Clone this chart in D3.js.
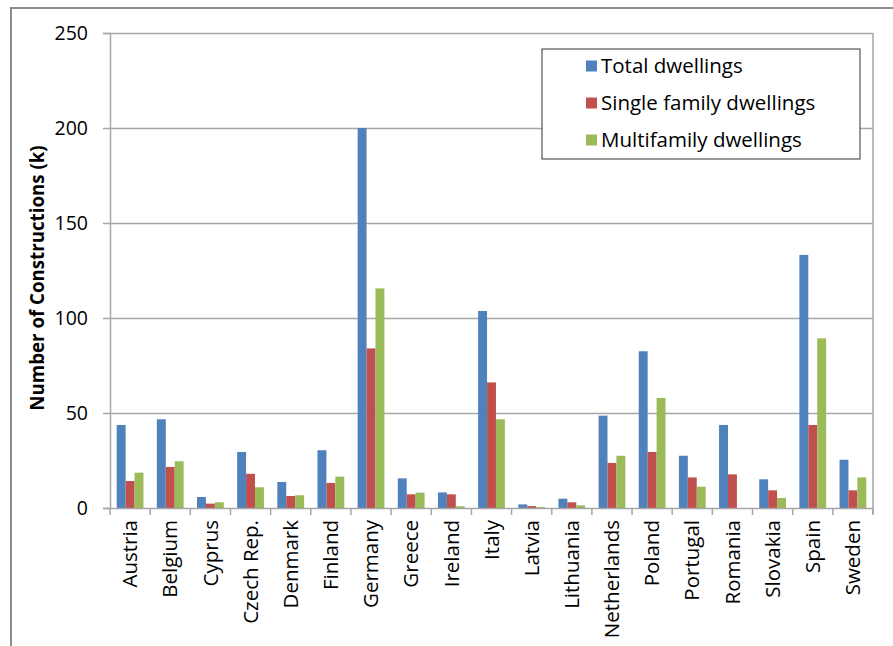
<!DOCTYPE html>
<html>
<head>
<meta charset="utf-8">
<script src="https://cdn.jsdelivr.net/npm/d3@7"></script>
<style>
    body { margin: 0; background: #fff; }
    svg text { font-family: "Open Sans", "Noto Sans", sans-serif; fill: #000; }
</style>
</head>
<body>
<svg id="chart"></svg>
<script>
const countries = ["Austria", "Belgium", "Cyprus", "Czech Rep.", "Denmark", "Finland", "Germany",
    "Greece", "Ireland", "Italy", "Latvia", "Lithuania", "Netherlands", "Poland", "Portugal",
    "Romania", "Slovakia", "Spain", "Sweden"];
const seriesNames = ["Total dwellings", "Single family dwellings", "Multifamily dwellings"];
const seriesColors = ["#4f81bd", "#c0504d", "#9bbb59"];
const totalDwellings = [43.7, 46.7, 5.8, 29.5, 13.7, 30.4, 200, 15.6, 8.2, 103.7, 1.9, 4.9, 48.6, 82.5, 27.5, 43.7, 15.1, 133.2, 25.4];
const singleFamily = [14.2, 21.6, 2.3, 18, 6.3, 13.2, 84, 7.2, 7.2, 66.1, 1, 3, 23.7, 29.5, 16.1, 17.7, 9.3, 43.7, 9.3];
const multiFamily = [18.6, 24.6, 3, 10.9, 6.7, 16.5, 115.6, 8.1, 0.9, 46.7, 0.5, 1.4, 27.5, 57.9, 11.2, 0, 5.3, 89.3, 16.1];
const yTicks = [0, 50, 100, 150, 200, 250];

document.addEventListener("DOMContentLoaded", drawChart);

function drawChart() {
    const width = 893;
    const height = 646;
    const left = 110, right = 873, top = 33, bottom = 508;

    const svg = d3.select("svg#chart")
        .attr("width", width)
        .attr("height", height);

    // Рамка
    svg.append("path")
        .attr("d", `M11,${height} V8 H${width}`)
        .attr("fill", "none")
        .attr("stroke", "#8c8c8c")
        .attr("stroke-width", 2);

    const x = d3.scaleBand().domain(countries).range([left, right]);
    const xSub = d3.scaleBand().domain(seriesNames).range([0, x.bandwidth()]).paddingOuter(0.75);
    const y = d3.scaleLinear().domain([0, 250]).range([bottom, top]);

    // Сетка
    svg.append("g")
        .attr("transform", `translate(${left},0)`)
        .call(d3.axisLeft(y).tickValues(yTicks.slice(1)).tickSize(-(right - left)).tickFormat(""))
        .call(g => g.select(".domain").remove())
        .selectAll("line")
        .attr("stroke", "#a6a6a6")
        .attr("stroke-width", 1.5);

    svg.append("line")
        .attr("x1", right).attr("x2", right)
        .attr("y1", top).attr("y2", bottom + 6)
        .attr("stroke", "#a6a6a6")
        .attr("stroke-width", 1.5);

    // Столбцы
    const rows = countries.map((c, i) => ({
        country: c,
        values: [totalDwellings[i], singleFamily[i], multiFamily[i]]
    }));

    svg.append("g")
        .selectAll("g")
        .data(rows)
        .join("g")
        .attr("transform", d => `translate(${x(d.country)},0)`)
        .selectAll("rect")
        .data(d => d.values.map((v, k) => ({ name: seriesNames[k], value: v, color: seriesColors[k] })))
        .join("rect")
        .attr("x", d => xSub(d.name))
        .attr("width", xSub.bandwidth())
        .attr("y", d => y(d.value))
        .attr("height", d => y(0) - y(d.value))
        .attr("fill", d => d.color);

    // Оси
    const yAxis = svg.append("g")
        .attr("transform", `translate(${left},0)`)
        .call(d3.axisLeft(y).tickValues(yTicks).tickSize(7).tickPadding(15));
    yAxis.select(".domain").attr("stroke", "#a6a6a6").attr("stroke-width", 1.5);
    yAxis.selectAll(".tick line").attr("stroke", "#a6a6a6").attr("stroke-width", 1.5);
    yAxis.selectAll("text").attr("font-size", 19.5);

    const xAxis = svg.append("g")
        .attr("transform", `translate(0,${bottom})`)
        .call(d3.axisBottom(x).tickSize(0).tickPadding(0));
    xAxis.select(".domain").attr("stroke", "#a6a6a6").attr("stroke-width", 1.5);
    xAxis.selectAll("text")
        .attr("font-size", 20.5)
        .attr("text-anchor", "end")
        .attr("dy", "0.35em")
        .attr("transform", "translate(0,12) rotate(-90)");

    xAxis.selectAll(".sep")
        .data(d3.range(countries.length + 1))
        .join("line")
        .attr("class", "sep")
        .attr("x1", i => left + i * x.step())
        .attr("x2", i => left + i * x.step())
        .attr("y1", 0).attr("y2", 7)
        .attr("stroke", "#a6a6a6")
        .attr("stroke-width", 1.5);

    svg.append("text")
        .attr("transform", `translate(44,278) rotate(-90)`)
        .attr("text-anchor", "middle")
        .attr("font-size", 18.7)
        .attr("font-weight", "bold")
        .text("Number of Constructions (k)");

    // Легенда
    const legend = svg.append("g").attr("transform", "translate(542,49)");
    legend.append("rect")
        .attr("width", 318).attr("height", 110)
        .attr("fill", "#fff")
        .attr("stroke", "#333")
        .attr("stroke-width", 1);

    const item = legend.selectAll(".item")
        .data(seriesNames)
        .join("g")
        .attr("class", "item")
        .attr("transform", (d, i) => `translate(44,${17 + i * 37})`);
    item.append("rect")
        .attr("width", 11).attr("height", 11)
        .attr("y", -5.5)
        .attr("fill", (d, i) => seriesColors[i]);
    item.append("text")
        .attr("x", 15)
        .attr("dy", "0.35em")
        .attr("font-size", 20.5)
        .text(d => d);
}
</script>
</body>
</html>
